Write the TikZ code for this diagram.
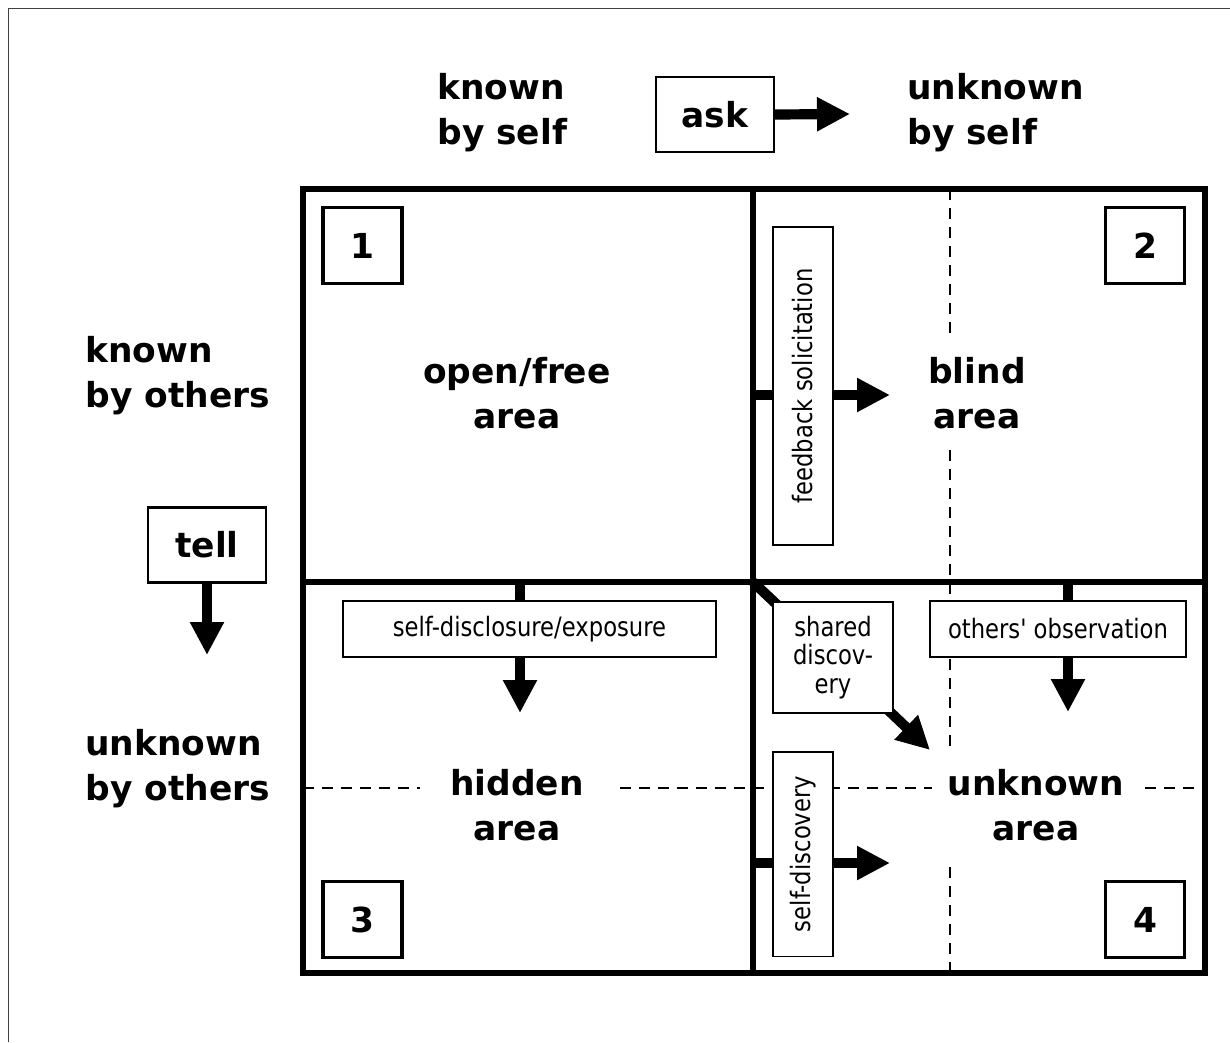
\documentclass[tikz,border=0pt]{standalone}
\usepackage{fontspec}
\setmainfont{DejaVu Sans}
\newfontfamily\narrowfont[FakeStretch=0.85]{DejaVu Sans}
\usetikzlibrary{arrows.meta}
\pgfdeclarelayer{bg}
\pgfsetlayers{bg,main}
\begin{document}
\begin{tikzpicture}[x=0.02cm,y=-0.02cm,
  big/.style={font=\bfseries\fontsize{19.6}{25.6}\selectfont, inner sep=0pt},
  lab/.style={big, align=left, anchor=west},
  areatxt/.style={big, align=center},
  small/.style={font=\narrowfont\fontsize{15.2}{16.2}\selectfont},
  numbox/.style={draw, line width=1.9pt, big, minimum width=1.58cm, minimum height=1.52cm},
  wordbox/.style={draw, line width=1.2pt, big, minimum width=2.36cm, minimum height=1.5cm},
  tbox/.style={draw, fill=white, line width=1.1pt, small, inner sep=0pt},
  gridline/.style={line width=2.9pt},
  dashline/.style={line width=1.5pt, dash pattern=on 0.22cm off 0.16cm},
  arr/.style={line width=5.8pt, -{Triangle[length=0.66cm,width=0.64cm]}},
  stub/.style={line width=5.8pt}
]
\useasboundingbox (0,0) rectangle (1230,1042);
% outer frame
\draw[line width=0.8pt, black!75] (8.5,1042) -- (8.5,8.5) -- (1230,8.5);

% dashed dividers
\draw[dashline] (950,189) -- (950,333);
\draw[dashline] (950,450) -- (950,750);
\draw[dashline] (950,867) -- (950,973);
\draw[dashline] (303,788) -- (420,788);
\draw[dashline] (620,788) -- (932,788);
\draw[dashline] (1145,788) -- (1205,788);

% main grid
\draw[gridline] (303,189) rectangle (1205,973);
\draw[gridline] (753,189) -- (753,973);
\draw[gridline] (303,582) -- (1205,582);

% number boxes
\node[numbox] (n1) at (362.5,245.5) {1};
\node[numbox] (n2) at (1145,245.5) {2};
\node[numbox] (n3) at (362.5,919.5) {3};
\node[numbox] (n4) at (1145,919.5) {4};

% ask / tell
\node[wordbox] (ask) at (715,114.5) {ask};
\node[wordbox] (tell) at (207,545) {tell};

% side labels
\node[lab] (kself) at (437,113) {known\\by self};
\node[lab] (uself) at (907,113) {unknown\\by self};
\node[lab] (kothers) at (85,376) {known\\by others};
\node[lab] (uothers) at (85,769) {unknown\\by others};

% area labels
\node[areatxt] (open) at (517,393) {open/free\\area};
\node[areatxt] (blind) at (977,393) {blind\\area};
\node[areatxt] (hidden) at (517,805) {hidden\\area};
\node[areatxt] (unknown) at (1036,805) {unknown\\area};

% process boxes
\node[tbox, minimum width=7.46cm, minimum height=1.12cm] (sdisc) at (529.5,629) {self-disclosure/exposure};
\node[tbox, minimum width=5.12cm, minimum height=1.12cm] (obs) at (1058,629) {others' observation};
\node[tbox, minimum width=2.4cm, minimum height=2.22cm, align=center] (shared) at (833,657.5) {shared\\discov-\\ery};
\node[tbox, rotate=90, minimum width=6.36cm, minimum height=1.2cm] (fb) at (803,386) {feedback solicitation};
\node[tbox, rotate=90, minimum width=4.1cm, minimum height=1.2cm] (sdisco) at (803,854) {self-discovery};

% connectors
\coordinate (askend) at (850,114);
\draw[arr] (ask.east) -- (askend);
\coordinate (tellend) at (207,655);
\draw[arr] (tell.south) -- (tellend);

\coordinate (fbstart) at (753,395);
\coordinate (fbend) at (890,395);
\draw[stub] (fbstart) -- (fbstart -| fb.north);
\draw[arr] (fbstart -| fb.south) -- (fbend);

\coordinate (sdstart) at (753,863);
\coordinate (sdend) at (890,863);
\draw[stub] (sdstart) -- (sdstart -| sdisco.north);
\draw[arr] (sdstart -| sdisco.south) -- (sdend);

\coordinate (discstart) at (520,582);
\coordinate (discend) at (520,713);
\draw[stub] (discstart) -- (discstart |- sdisc.north);
\draw[arr] (discstart |- sdisc.south) -- (discend);

\coordinate (obsstart) at (1068,582);
\coordinate (obsend) at (1068,712);
\draw[stub] (obsstart) -- (obsstart |- obs.north);
\draw[arr] (obsstart |- obs.south) -- (obsend);

\coordinate (corner) at (753,582);
\coordinate (sharedend) at (930,750);
\begin{pgfonlayer}{bg}
\draw[stub] (corner) -- (shared.center);
\draw[arr] (shared.center) -- (sharedend);
\end{pgfonlayer}
\end{tikzpicture}
\end{document}
